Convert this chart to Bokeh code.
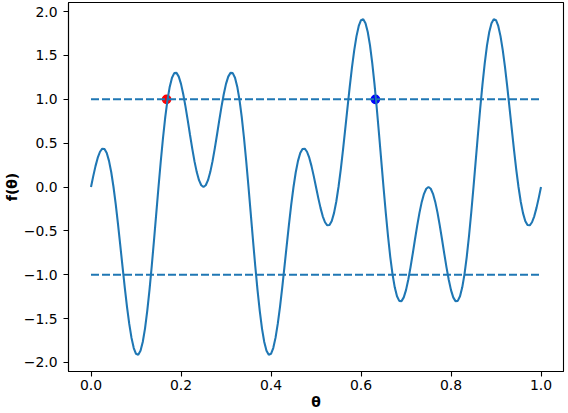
from bokeh.plotting import figure
from bokeh.models import Range1d, FixedTicker, ColumnDataSource
from bokeh.embed import file_html
from bokeh.resources import INLINE

# theta grid (step 0.005)
theta = [i / 200 for i in range(201)]

# f(theta) at every 0.005
f_values = [
    0.000, 0.124, 0.238, 0.334, 0.402, 0.437, 0.433, 0.387, 0.298, 0.168,
    0.000, -0.199, -0.423, -0.662, -0.906, -1.144, -1.366, -1.562, -1.721, -1.837,
    -1.902, -1.913, -1.868, -1.768, -1.615, -1.414, -1.173, -0.901, -0.607, -0.303,
    0.000, 0.291, 0.559, 0.796, 0.993, 1.144, 1.247, 1.299, 1.302, 1.259,
    1.176, 1.058, 0.916, 0.759, 0.596, 0.437, 0.292, 0.170, 0.078, 0.020,
    0.000, 0.020, 0.078, 0.170, 0.292, 0.437, 0.596, 0.759, 0.916, 1.058,
    1.176, 1.259, 1.302, 1.299, 1.247, 1.144, 0.993, 0.796, 0.559, 0.291,
    0.000, -0.303, -0.607, -0.901, -1.173, -1.414, -1.615, -1.768, -1.868, -1.913,
    -1.902, -1.837, -1.721, -1.562, -1.366, -1.144, -0.906, -0.662, -0.423, -0.199,
    0.000, 0.168, 0.298, 0.387, 0.433, 0.437, 0.402, 0.334, 0.238, 0.124,
    0.000,
    -0.124, -0.238, -0.334, -0.402, -0.437, -0.433, -0.387, -0.298, -0.168, 0.000,
    0.199, 0.423, 0.662, 0.906, 1.144, 1.366, 1.562, 1.721, 1.837, 1.902,
    1.913, 1.868, 1.768, 1.615, 1.414, 1.173, 0.901, 0.607, 0.303, 0.000,
    -0.291, -0.559, -0.796, -0.993, -1.144, -1.247, -1.299, -1.302, -1.259, -1.176,
    -1.058, -0.916, -0.759, -0.596, -0.437, -0.292, -0.170, -0.078, -0.020, 0.000,
    -0.020, -0.078, -0.170, -0.292, -0.437, -0.596, -0.759, -0.916, -1.058, -1.176,
    -1.259, -1.302, -1.299, -1.247, -1.144, -0.993, -0.796, -0.559, -0.291, 0.000,
    0.303, 0.607, 0.901, 1.173, 1.414, 1.615, 1.768, 1.868, 1.913, 1.902,
    1.837, 1.721, 1.562, 1.366, 1.144, 0.906, 0.662, 0.423, 0.199, 0.000,
    -0.168, -0.298, -0.387, -0.433, -0.437, -0.402, -0.334, -0.238, -0.124, 0.000,
]

# horizontal reference levels
level_theta = [0.0, 1.0]
upper_level = [1.0, 1.0]
lower_level = [-1.0, -1.0]

# highlighted points
point_theta = [0.168, 0.632]
point_f = [1.0, 1.0]
point_colors = ["red", "blue"]

x_ticks = [0.0, 0.2, 0.4, 0.6, 0.8, 1.0]
x_tick_labels = ["0.0", "0.2", "0.4", "0.6", "0.8", "1.0"]
y_ticks = [-2.0, -1.5, -1.0, -0.5, 0.0, 0.5, 1.0, 1.5, 2.0]
y_tick_labels = ["\u22122.0", "\u22121.5", "\u22121.0", "\u22120.5", "0.0", "0.5", "1.0", "1.5", "2.0"]

C0 = "#1f77b4"
FONT = "DejaVu Sans"

xmin, xmax = min(theta), max(theta)
ymin, ymax = min(f_values), max(f_values)
xpad = 0.05 * (xmax - xmin)
ypad = 0.05 * (ymax - ymin)

p = figure(
    width=568, height=413,
    output_backend="svg", toolbar_location=None,
    x_range=Range1d(xmin - xpad, xmax + xpad),
    y_range=Range1d(ymin - ypad, ymax + ypad),
    min_border_left=68, min_border_right=5, min_border_top=2, min_border_bottom=42,
)
p.grid.visible = False
p.background_fill_color = "white"
p.border_fill_color = "white"
p.outline_line_color = "black"
p.outline_line_width = 1.1
p.outline_line_alpha = 1.0

pts = ColumnDataSource(dict(x=point_theta, y=point_f, c=point_colors))
p.scatter("x", "y", source=pts, size=8.3, fill_color="c", line_color="c", line_width=1.4, marker="circle")

p.line(theta, f_values, line_color=C0, line_width=2.08)
p.line(level_theta, upper_level, line_color=C0, line_width=2.08, line_dash="8 3")
p.line(level_theta, lower_level, line_color=C0, line_width=2.08, line_dash="8 3")

p.xaxis.ticker = FixedTicker(ticks=x_ticks)
p.xaxis.major_label_overrides = {t: l for t, l in zip(x_ticks, x_tick_labels)}
p.yaxis.ticker = FixedTicker(ticks=y_ticks)
p.yaxis.major_label_overrides = {t: l for t, l in zip(y_ticks, y_tick_labels)}

p.xaxis.axis_label = "\u03b8"
p.yaxis.axis_label = "f(\u03b8)"

for ax in (p.xaxis[0], p.yaxis[0]):
    ax.axis_line_color = "black"
    ax.axis_line_width = 1.1
    ax.major_tick_line_color = "black"
    ax.major_tick_line_width = 1.1
    ax.major_tick_out = 5
    ax.major_tick_in = 0
    ax.minor_tick_line_color = None
    ax.major_label_text_font = FONT
    ax.major_label_text_font_size = "13.9px"
    ax.major_label_text_color = "black"
    ax.axis_label_text_font = FONT
    ax.axis_label_text_font_size = "13.9px"
    ax.axis_label_text_font_style = "bold"
    ax.axis_label_text_color = "black"

p.xaxis[0].major_label_standoff = 3
p.xaxis[0].axis_label_standoff = 1
p.yaxis[0].major_label_standoff = 6
p.yaxis[0].axis_label_standoff = 1

open("out.html", "w").write(file_html(p, INLINE))
